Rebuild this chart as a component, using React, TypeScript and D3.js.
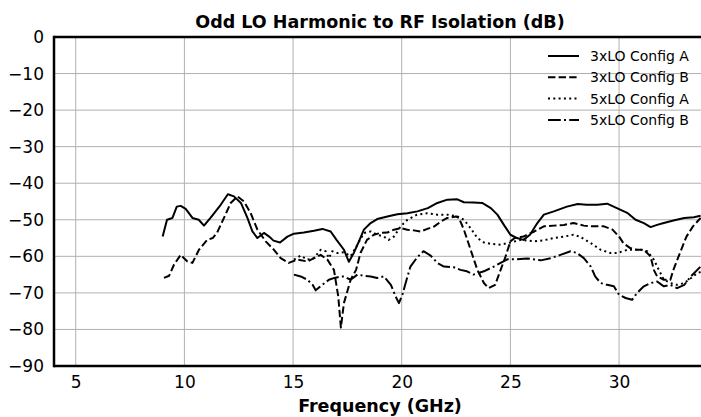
import React, { useEffect, useRef } from 'react';
import * as d3 from 'd3';

// [frequency GHz, isolation dB]
const lo3ConfigA: [number, number][] = [
  [9.0, -54.6], [9.2, -50], [9.45, -49.5], [9.65, -46.4], [9.83, -46.2], [10.06, -47], [10.37, -49.5],
  [10.66, -50], [10.9, -51.6], [11.2, -49.5], [11.67, -45.9], [12.0, -43], [12.28, -43.6], [12.6, -45.4],
  [12.9, -49.5], [13.13, -53.2], [13.36, -55], [13.66, -53.6], [13.9, -54.6], [14.1, -55.7], [14.4, -56.2],
  [14.74, -54.6], [15.04, -53.8], [15.5, -53.5], [15.96, -53], [16.35, -52.5], [16.73, -53.2], [17.0, -55.5],
  [17.34, -58.2], [17.57, -61.5], [17.8, -59], [18.03, -55.9], [18.26, -52.7], [18.57, -50.9], [18.87, -49.8],
  [19.34, -49.1], [19.8, -48.5], [20.26, -48.2], [20.72, -47.7], [21.2, -46.8], [21.64, -45.4], [22.1, -44.5],
  [22.56, -44.4], [22.86, -45.2], [23.3, -45.3], [23.7, -45.4], [24.1, -46.8], [24.4, -48.6], [24.7, -51.4],
  [25.0, -54.1], [25.3, -55], [25.6, -55.5], [25.9, -54.1], [26.24, -50.9], [26.54, -48.6], [27.0, -47.7],
  [27.6, -46.4], [28.1, -45.7], [28.5, -45.9], [29.0, -45.9], [29.45, -45.6], [29.9, -46.8], [30.4, -48.2],
  [30.76, -50], [31.14, -50.9], [31.45, -52], [31.75, -51.4], [32.06, -50.9], [32.5, -50.2], [33.0, -49.5],
  [33.44, -49.3], [33.75, -48.9],
];

const lo3ConfigB: [number, number][] = [
  [9.06, -65.9], [9.3, -65.3], [9.52, -62.3], [9.83, -59.6], [10.14, -61.4], [10.37, -61.8], [10.67, -58.2],
  [11.05, -55.5], [11.3, -55], [11.5, -53.6], [11.82, -49.5], [12.13, -45.4], [12.44, -43.6], [12.74, -45],
  [13.05, -48.2], [13.36, -52.7], [13.74, -55.9], [14.12, -58.2], [14.43, -60.5], [14.8, -61.8], [15.2, -60.9],
  [15.66, -61.4], [15.96, -60.5], [16.27, -59.6], [16.58, -60.9], [16.88, -63.7], [17.08, -71], [17.2, -79.5],
  [17.34, -72.8], [17.65, -66.4], [17.9, -63.7], [18.1, -59.1], [18.4, -55.5], [18.72, -54.1], [19.03, -53.6],
  [19.34, -53.5], [19.64, -52.7], [19.95, -52.3], [20.26, -52.7], [20.56, -52.9], [20.87, -53.2], [21.18, -52.5],
  [21.5, -51.8], [21.8, -50.5], [22.1, -49.5], [22.5, -49.1], [22.63, -49.5], [22.86, -52.7], [23.17, -58.2],
  [23.48, -63.7], [23.78, -67.3], [24.0, -68.7], [24.3, -67.8], [24.55, -63.7], [24.78, -60], [25.0, -55.9],
  [25.2, -55], [25.6, -54.6], [26.1, -53.2], [26.54, -51.8], [27.0, -51.6], [27.46, -51.4], [27.9, -50.9],
  [28.38, -51.6], [28.84, -51.8], [29.3, -51.8], [29.7, -52.7], [30.0, -54.6], [30.2, -56.4], [30.5, -57.7],
  [30.8, -58.2], [31.14, -58.2], [31.45, -60], [31.6, -63.7], [31.75, -65.5], [32.06, -66.4], [32.36, -66.4],
  [32.5, -63.7], [32.8, -59.1], [33.1, -54.6], [33.4, -51.8], [33.75, -49.5],
];

const lo5ConfigA: [number, number][] = [
  [15.04, -60.9], [15.35, -59.8], [15.66, -60.9], [15.96, -60.5], [16.27, -58.2], [16.5, -58.6], [16.65, -60.5],
  [16.8, -58.6], [17.04, -59.1], [17.34, -58.9], [17.65, -60], [17.96, -56.8], [18.26, -53.6], [18.57, -53.2],
  [18.87, -54.1], [19.18, -54.6], [19.4, -55.5], [19.64, -54.6], [19.95, -51.8], [20.26, -50], [20.7, -48.6],
  [21.18, -48.2], [21.64, -48.6], [22.1, -48.6], [22.56, -49.1], [22.86, -50], [23.17, -52.3], [23.48, -55],
  [23.78, -56.2], [24.1, -56.6], [24.55, -56.8], [25.0, -56.2], [25.5, -55.5], [26.1, -55.9], [26.54, -55.6],
  [27.0, -55], [27.46, -54.6], [27.9, -54.1], [28.2, -54.6], [28.7, -56.4], [29.15, -58.2], [29.6, -59.1],
  [29.9, -59.1], [30.4, -58.2], [31.0, -58.2], [31.3, -58.6], [31.6, -60.9], [31.83, -63.7], [32.06, -66.4],
  [32.36, -67.3], [32.67, -67.8], [33.0, -67.3], [33.3, -66], [33.6, -64.6], [33.75, -64.3],
];

const lo5ConfigB: [number, number][] = [
  [15.04, -65], [15.35, -65.5], [15.66, -66.4], [15.9, -67.8], [16.04, -69.3], [16.35, -67.8], [16.65, -66.4],
  [16.9, -65.9], [17.2, -65.5], [17.34, -65.5], [17.65, -66.4], [17.96, -65], [18.26, -65.3], [18.57, -65.5],
  [18.87, -65.9], [19.18, -65.5], [19.5, -67.8], [19.72, -71], [19.87, -72.8], [20.03, -70.5], [20.18, -67.3],
  [20.4, -62.8], [20.72, -60.2], [21.0, -58.6], [21.33, -59.8], [21.64, -61.8], [21.94, -62.8], [22.4, -63],
  [22.7, -63.7], [23.0, -64.1], [23.3, -65], [23.78, -64.1], [24.24, -62.8], [24.55, -61.8], [24.86, -60.8],
  [25.3, -60.8], [25.78, -60.6], [26.4, -61.1], [26.85, -60.5], [27.3, -59.6], [27.77, -58.6], [28.07, -59.1],
  [28.38, -60.5], [28.7, -62.8], [28.9, -65.5], [29.15, -67.3], [29.45, -67.8], [29.76, -68.2], [30.0, -70.5],
  [30.3, -71.4], [30.6, -71.9], [30.83, -70], [31.14, -68.2], [31.45, -67.3], [31.75, -66.9], [32.06, -68.2],
  [32.36, -67.8], [32.67, -68.7], [33.0, -67.8], [33.3, -65.5], [33.6, -63.7], [33.75, -62.8],
];

const seriesNames = ['3xLO Config A', '3xLO Config B', '5xLO Config A', '5xLO Config B'];
const xTicks = [5, 10, 15, 20, 25, 30];
const yTicks = [0, -10, -20, -30, -40, -50, -60, -70, -80, -90];

const FONT = "'DejaVu Sans', sans-serif";

const App = () => {
  const svgRef = useRef<SVGSVGElement>(null);

  useEffect(() => {
    document.body.style.margin = '0';
    const width = 701;
    const height = 417;
    const margin = { top: 37, right: -5, bottom: 51, left: 54 };

    const svg = d3.select(svgRef.current);
    svg.selectAll('*').remove();
    svg.attr('width', width).attr('height', height);

    const x = d3.scaleLinear().domain([4, 34]).range([margin.left, width - margin.right]);
    const y = d3.scaleLinear().domain([-90, 0]).range([height - margin.bottom, margin.top]);

    // grid
    const grid = svg.append('g');
    xTicks.forEach(t => {
      grid.append('line')
        .attr('x1', x(t)).attr('x2', x(t))
        .attr('y1', y(0)).attr('y2', y(-90))
        .attr('stroke', '#b0b0b0').attr('stroke-width', 1);
    });
    yTicks.forEach(t => {
      grid.append('line')
        .attr('x1', x(4)).attr('x2', x(34))
        .attr('y1', y(t)).attr('y2', y(t))
        .attr('stroke', '#b0b0b0').attr('stroke-width', 1);
    });

    svg.append('clipPath').attr('id', 'plot-clip')
      .append('rect')
      .attr('x', x(4)).attr('y', y(0))
      .attr('width', x(34) - x(4)).attr('height', y(-90) - y(0));

    const line = d3.line<[number, number]>()
      .x(d => x(d[0]))
      .y(d => y(d[1]));

    const series = [lo3ConfigA, lo3ConfigB, lo5ConfigA, lo5ConfigB];
    const dashes = [null, '7.4,3.2', '2,3.3', '12.8,3.2,2,3.2'];

    const lines = svg.append('g').attr('clip-path', 'url(#plot-clip)');
    series.forEach((s, i) => {
      lines.append('path')
        .datum(s)
        .attr('fill', 'none')
        .attr('stroke', 'black')
        .attr('stroke-width', 2)
        .attr('stroke-linejoin', 'round')
        .attr('stroke-dasharray', dashes[i])
        .attr('d', line);
    });

    // axes (no tick marks in the reference, only labels)
    const xAxis = svg.append('g')
      .attr('transform', `translate(0,${y(-90)})`)
      .call(d3.axisBottom(x).tickValues(xTicks).tickSize(0).tickPadding(10).tickFormat(d3.format('d')));
    const yAxis = svg.append('g')
      .attr('transform', `translate(${x(4)},0)`)
      .call(d3.axisLeft(y).tickValues(yTicks).tickSize(0).tickPadding(10)
        .tickFormat(d => d3.format('d')(d as number).replace('-', '\u2212')));

    [xAxis, yAxis].forEach(a => {
      a.select('.domain').remove();
      a.selectAll('.tick line').remove();
      a.selectAll('.tick text')
        .attr('fill', 'black')
        .style('font-family', FONT)
        .style('font-size', '17px');
    });

    // spines
    svg.append('line')
      .attr('x1', x(4)).attr('x2', x(34)).attr('y1', y(0)).attr('y2', y(0))
      .attr('stroke', 'black').attr('stroke-width', 2.5);
    svg.append('line')
      .attr('x1', x(4)).attr('x2', x(34)).attr('y1', y(-90)).attr('y2', y(-90))
      .attr('stroke', 'black').attr('stroke-width', 2.5);
    svg.append('line')
      .attr('x1', x(4)).attr('x2', x(4)).attr('y1', y(0) - 1.25).attr('y2', y(-90) + 1.25)
      .attr('stroke', 'black').attr('stroke-width', 2.5);

    // title + label
    svg.append('text')
      .attr('x', (x(4) + x(34)) / 2).attr('y', 28)
      .attr('text-anchor', 'middle')
      .style('font-family', FONT).style('font-size', '17.5px').style('font-weight', 'bold')
      .text('Odd LO Harmonic to RF Isolation (dB)');
    svg.append('text')
      .attr('x', (x(4) + x(34)) / 2).attr('y', 412)
      .attr('text-anchor', 'middle')
      .style('font-family', FONT).style('font-size', '17.5px').style('font-weight', 'bold')
      .text('Frequency (GHz)');

    // legend
    const legend = svg.append('g').attr('transform', 'translate(548,56)');
    seriesNames.forEach((name, i) => {
      legend.append('line')
        .attr('x1', 0).attr('x2', 31)
        .attr('y1', i * 21.3).attr('y2', i * 21.3)
        .attr('stroke', 'black').attr('stroke-width', 2)
        .attr('stroke-dasharray', dashes[i]);
      legend.append('text')
        .attr('x', 42).attr('y', i * 21.3 + 5)
        .style('font-family', FONT).style('font-size', '14px')
        .text(name);
    });
  }, []);

  return <svg ref={svgRef} style={{ display: 'block' }}></svg>;
};

export default App;
